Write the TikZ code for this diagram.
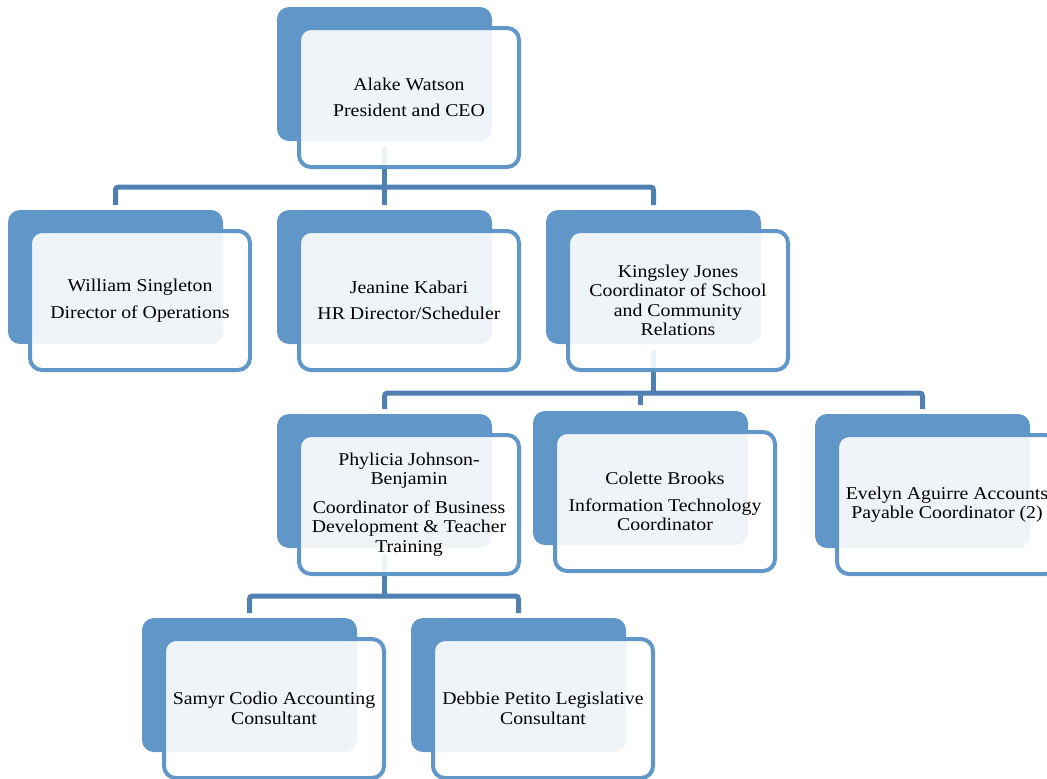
\documentclass[tikz,border=0pt]{standalone}
\usepackage{fontspec}
\setmainfont{Liberation Serif}[FakeStretch=1.1]
\pgfdeclarelayer{bg}
\pgfsetlayers{bg,main}
\definecolor{boxblue}{RGB}{96,150,200}
\definecolor{connblue}{RGB}{80,128,178}
\tikzset{
  backbox/.style={anchor=north west, fill=boxblue, draw=none, inner sep=0pt, outer sep=0pt,
    minimum width=215pt, minimum height=134pt, rounded corners=12pt},
  frontbox/.style={anchor=north west, draw=boxblue, line width=4pt, fill=white, fill opacity=0.9,
    text opacity=1, inner sep=0pt, outer sep=0pt, minimum width=220pt, minimum height=139pt,
    rounded corners=12pt, align=center, font=\fontsize{18}{19.5}\selectfont},
  conn/.style={draw=connblue, line width=5pt, rounded corners=3pt}
}
\newcommand\orgunit[4]{%
  \node[backbox] (#1) at (#2,-#3) {};
  \node[frontbox] (#1f) at (#2+22,-#3-21) {#4};
}
\begin{document}
\begin{tikzpicture}[x=1pt,y=1pt]
\useasboundingbox (0,0) rectangle (1047,-779);
\orgunit{ceo}{277}{7}{Alake Watson\\[6.5pt]President and CEO}
\orgunit{will}{8}{210}{William Singleton\\[7pt]Director of Operations}
\orgunit{jean}{277}{210}{Jeanine Kabari\\[7pt]HR Director/Scheduler}
\orgunit{king}{546}{210}{Kingsley Jones\\Coordinator of School\\and Community\\Relations}
\orgunit{phy}{277}{414}{Phylicia Johnson-\\Benjamin\\[9pt]Coordinator of Business\\Development \& Teacher\\Training}
\orgunit{col}{533}{411}{Colette Brooks\\[7pt]Information Technology\\Coordinator}
\orgunit{eve}{815}{414}{Evelyn Aguirre Accounts\\Payable Coordinator (2)}
\orgunit{sam}{142}{618}{Samyr Codio Accounting\\Consultant}
\orgunit{deb}{411}{618}{Debbie Petito Legislative\\Consultant}
\coordinate (bar1) at (0,-187);
\coordinate (bar2) at (0,-393);
\coordinate (bar3) at (0,-596);
\begin{pgfonlayer}{bg}
\draw[conn] ([yshift=-6pt]ceo.south) -- ([yshift=5pt]jean.north);
\draw[conn] ([yshift=5pt]will.north) -- (will.north |- bar1) -- (king.north |- bar1) -- ([yshift=5pt]king.north);
\draw[conn] ([yshift=-6pt]king.south) -- (king.south |- bar2);
\draw[conn] ([yshift=5pt]phy.north) -- (phy.north |- bar2) -- (eve.north |- bar2) -- ([yshift=5pt]eve.north);
\draw[conn] (col.north |- bar2) -- ([yshift=6pt]col.north);
\draw[conn] ([yshift=-6pt]phy.south) -- (phy.south |- bar3);
\draw[conn] ([yshift=5pt]sam.north) -- (sam.north |- bar3) -- (deb.north |- bar3) -- ([yshift=5pt]deb.north);
\end{pgfonlayer}
\end{tikzpicture}
\end{document}
